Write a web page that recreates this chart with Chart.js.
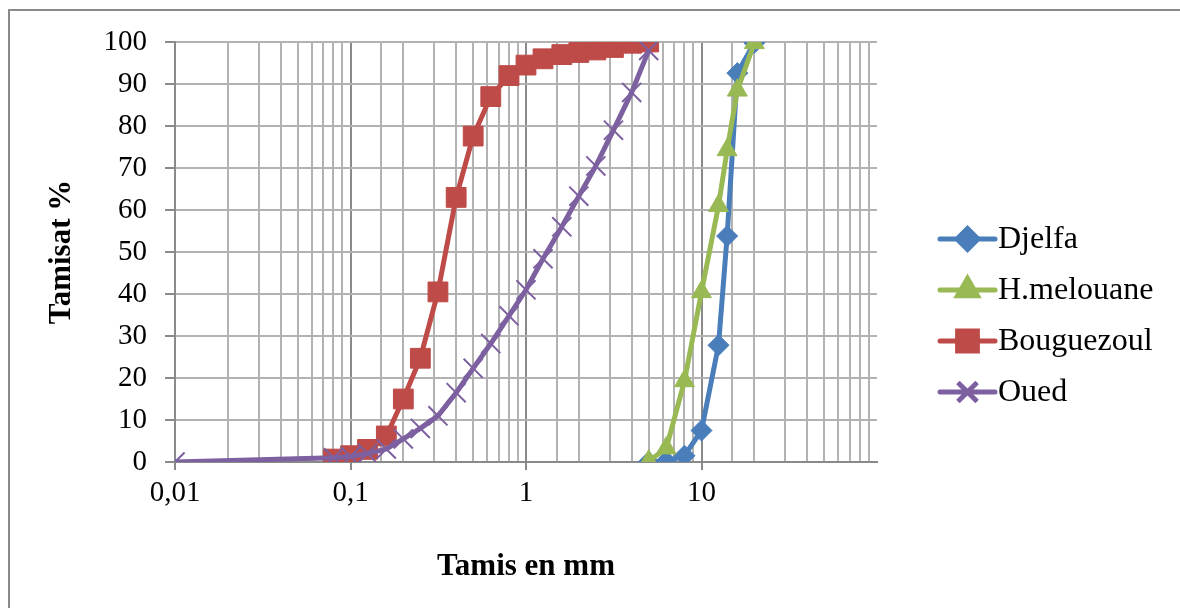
<!DOCTYPE html>
<html>
<head>
<meta charset="utf-8">
<title>Courbes granulométriques</title>
<script src="https://cdn.jsdelivr.net/npm/chart.js@4.4.1/dist/chart.umd.min.js"></script>
<style>
  html, body { margin: 0; padding: 0; background: #ffffff; }
  #wrap { width: 1180px; height: 608px; position: relative; }
</style>
</head>
<body>
<div id="wrap"><canvas id="grading" width="1180" height="608"></canvas></div>
<script>
// Sieve openings (mm)
const fineSieves = [0.08, 0.1, 0.125, 0.16, 0.2, 0.25, 0.315, 0.4, 0.5, 0.63, 0.8, 1, 1.25, 1.6, 2, 2.5, 3.15, 4, 5];
const ouedSieves = [0.01, 0.08, 0.1, 0.125, 0.16, 0.2, 0.25, 0.315, 0.4, 0.5, 0.63, 0.8, 1, 1.25, 1.6, 2, 2.5, 3.15, 4, 5];
const coarseSieves = [5, 6.3, 8, 10, 12.5, 14, 16, 20];

// Cumulative passing (%)
const djelfa = [0, 0.2, 1.5, 7.5, 27.8, 53.8, 92.6, 99.8];
const hMelouane = [0.2, 3.3, 19.3, 40.5, 61, 74.3, 88.5, 99.8];
const bouguezoul = [0.7, 1.5, 3, 6.2, 15, 24.7, 40.5, 63, 77.6, 87, 92, 94.5, 96, 97, 97.5, 98.1, 98.7, 99.7, 100];
const oued = [0, 1, 1.3, 2, 3.1, 5.5, 8, 11, 16.5, 22.3, 28.2, 34.8, 41, 48.4, 56, 63.3, 70.5, 79, 88, 98];

// Axis labels
const seriesNames = ['Djelfa', 'H.melouane', 'Bouguezoul', 'Oued'];
const xTickLabels = { '0.01': '0,01', '0.1': '0,1', '1': '1', '10': '10' };
const xTitle = 'Tamis en mm';
const yTitle = 'Tamisat %';

const SERIF = '"Liberation Serif", "Times New Roman", serif';
const GRID_MINOR = '#b2b2b2';
const GRID_MAJOR = '#8a8a8a';

function pairs(xs, ys) { return xs.map((x, i) => ({ x: x, y: ys[i] })); }
function isDecade(v) { const l = Math.log10(v); return Math.abs(l - Math.round(l)) < 1e-9; }

const styles = [
  { color: '#4a7ebb', point: 'rectRot', radius: 10.5, border: 1 },
  { color: '#98b954', point: 'triangle', radius: 11.5, border: 1 },
  { color: '#be4b48', point: 'rect', radius: 14, border: 1 },
  { color: '#7d60a0', point: 'crossRot', radius: 13.5, border: 2 }
];
const seriesData = [
  pairs(coarseSieves, djelfa),
  pairs(coarseSieves, hMelouane),
  pairs(fineSieves, bouguezoul),
  pairs(ouedSieves, oued)
];

const datasets = seriesNames.map((name, i) => ({
  label: name,
  data: seriesData[i],
  showLine: true,
  borderColor: styles[i].color,
  backgroundColor: styles[i].color,
  borderWidth: 5,
  pointStyle: styles[i].point,
  pointRadius: styles[i].radius,
  pointHoverRadius: styles[i].radius,
  pointBorderWidth: styles[i].border,
  pointBorderColor: styles[i].color,
  pointBackgroundColor: styles[i].color,
  order: seriesNames.length - i,
  tension: 0
}));

// White background, outer frame and the series key on the right
const framePlugin = {
  id: 'frameAndKey',
  beforeDraw(chart) {
    const ctx = chart.ctx;
    ctx.save();
    ctx.fillStyle = '#ffffff';
    ctx.fillRect(0, 0, chart.width, chart.height);
    ctx.strokeStyle = '#8a8a8a';
    ctx.lineWidth = 2;
    ctx.strokeRect(9, 10, chart.width + 20, chart.height + 20);
    ctx.restore();
  },
  afterDraw(chart) {
    const ctx = chart.ctx;
    const x0 = 940, x1 = 995, top = 239, step = 51;
    ctx.save();
    chart.data.datasets.forEach((ds, i) => {
      const y = top + i * step;
      ctx.strokeStyle = ds.borderColor;
      ctx.lineWidth = ds.borderWidth;
      ctx.lineCap = 'round';
      ctx.beginPath();
      ctx.moveTo(x0, y);
      ctx.lineTo(x1, y);
      ctx.stroke();
      ctx.lineCap = 'butt';
      Chart.helpers.drawPoint(ctx, {
        pointStyle: ds.pointStyle,
        radius: ds.pointRadius,
        borderWidth: ds.pointBorderWidth,
        rotation: 0
      }, (x0 + x1) / 2, y);
      ctx.fillStyle = ds.pointBackgroundColor;
      ctx.strokeStyle = ds.pointBorderColor;
      ctx.lineWidth = ds.pointBorderWidth;
      ctx.fill();
      ctx.stroke();
      ctx.fillStyle = '#000000';
      ctx.font = '32px ' + SERIF;
      ctx.textAlign = 'left';
      ctx.textBaseline = 'middle';
      ctx.fillText(ds.label, x1 + 3, y + 1);
    });
    ctx.restore();
  }
};

new Chart(document.getElementById('grading'), {
  type: 'scatter',
  data: { datasets: datasets },
  plugins: [framePlugin],
  options: {
    responsive: false,
    animation: false,
    events: [],
    layout: { padding: { left: 43, top: 42, right: 303, bottom: 0 } },
    plugins: {
      legend: { display: false },
      tooltip: { enabled: false }
    },
    scales: {
      x: {
        type: 'logarithmic',
        min: 0.01,
        max: 100,
        afterFit(scale) { scale.height = 146; },
        border: { display: true, color: GRID_MAJOR, width: 2 },
        grid: {
          lineWidth: 2,
          tickLength: 8,
          color(ctx) {
            const v = ctx.tick && ctx.tick.value;
            if (v === undefined || v <= 0.01 || v >= 100) return 'rgba(0,0,0,0)';
            return isDecade(v) ? GRID_MAJOR : GRID_MINOR;
          },
          tickColor(ctx) {
            const v = ctx.tick && ctx.tick.value;
            if (v === undefined || v >= 100) return 'rgba(0,0,0,0)';
            return isDecade(v) ? GRID_MAJOR : 'rgba(0,0,0,0)';
          }
        },
        ticks: {
          autoSkip: false,
          maxRotation: 0,
          padding: 6,
          color: '#000000',
          font: { family: SERIF, size: 29 },
          callback(value) {
            const key = String(+value.toPrecision(6));
            return xTickLabels[key] !== undefined ? xTickLabels[key] : '';
          }
        },
        title: {
          display: true,
          text: xTitle,
          color: '#000000',
          font: { family: SERIF, size: 31, weight: 'bold' },
          padding: { top: 0, bottom: 22 }
        }
      },
      y: {
        min: 0,
        max: 100,
        afterFit(scale) { scale.width = 132; },
        border: { display: true, color: GRID_MAJOR, width: 2 },
        grid: {
          lineWidth: 2,
          tickLength: 10,
          color: GRID_MINOR,
          tickColor: GRID_MAJOR
        },
        ticks: {
          stepSize: 10,
          padding: 18,
          color: '#000000',
          font: { family: SERIF, size: 29 }
        },
        title: {
          display: true,
          text: yTitle,
          color: '#000000',
          font: { family: SERIF, size: 31, weight: 'bold' },
          padding: { top: 0, bottom: 0 }
        }
      }
    }
  }
});
</script>
</body>
</html>
